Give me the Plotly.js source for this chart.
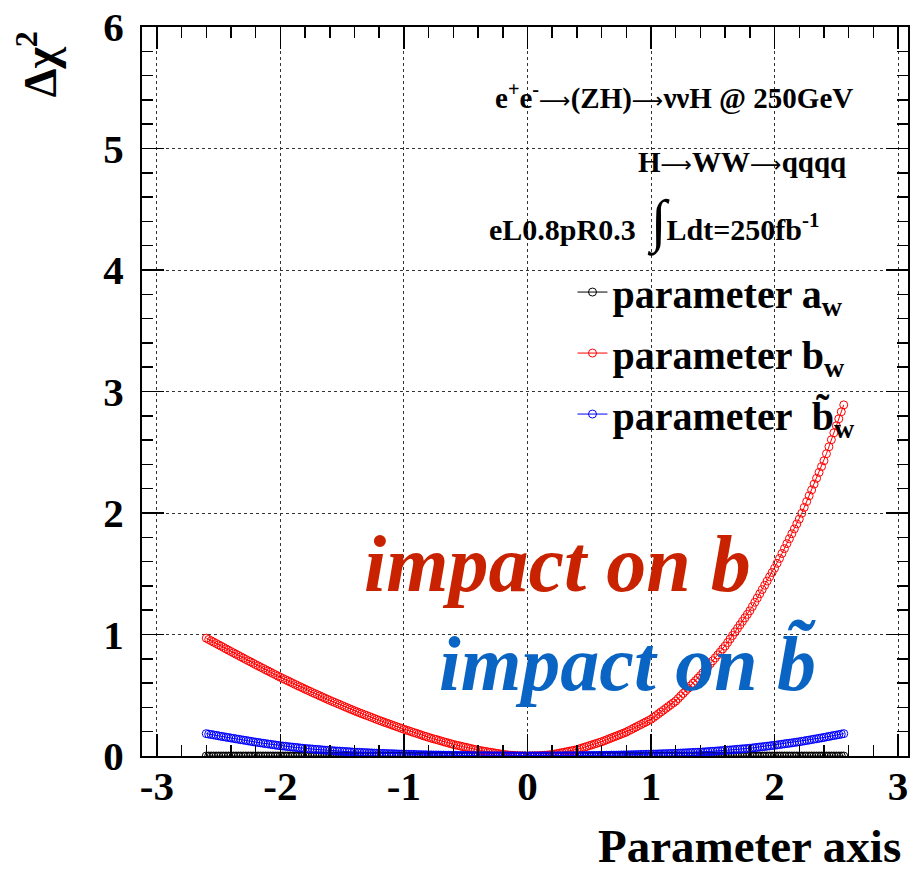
<!DOCTYPE html>
<html><head><meta charset="utf-8">
<script src="https://cdn.plot.ly/plotly-3.0.1.min.js"></script>
<style>html,body{margin:0;padding:0;background:#fff}</style>
</head><body><div id="chart" style="width:910px;height:873px"></div>
<script>
// ---- data ----
const xParam = [
-2.60,-2.58,-2.56,-2.54,-2.52,-2.50,-2.48,-2.46,-2.44,-2.42,
-2.40,-2.38,-2.36,-2.34,-2.32,-2.30,-2.28,-2.26,-2.24,-2.22,
-2.20,-2.18,-2.16,-2.14,-2.12,-2.10,-2.08,-2.06,-2.04,-2.02,
-2.00,-1.98,-1.96,-1.94,-1.92,-1.90,-1.88,-1.86,-1.84,-1.82,
-1.80,-1.78,-1.76,-1.74,-1.72,-1.70,-1.68,-1.66,-1.64,-1.62,
-1.60,-1.58,-1.56,-1.54,-1.52,-1.50,-1.48,-1.46,-1.44,-1.42,
-1.40,-1.38,-1.36,-1.34,-1.32,-1.30,-1.28,-1.26,-1.24,-1.22,
-1.20,-1.18,-1.16,-1.14,-1.12,-1.10,-1.08,-1.06,-1.04,-1.02,
-1.00,-0.98,-0.96,-0.94,-0.92,-0.90,-0.88,-0.86,-0.84,-0.82,
-0.80,-0.78,-0.76,-0.74,-0.72,-0.70,-0.68,-0.66,-0.64,-0.62,
-0.60,-0.58,-0.56,-0.54,-0.52,-0.50,-0.48,-0.46,-0.44,-0.42,
-0.40,-0.38,-0.36,-0.34,-0.32,-0.30,-0.28,-0.26,-0.24,-0.22,
-0.20,-0.18,-0.16,-0.14,-0.12,-0.10,-0.08,-0.06,-0.04,-0.02,
0.00,
0.02,0.04,0.06,0.08,0.10,0.12,0.14,0.16,0.18,
0.20,0.22,0.24,0.26,0.28,0.30,0.32,0.34,0.36,0.38,
0.40,0.42,0.44,0.46,0.48,0.50,0.52,0.54,0.56,0.58,
0.60,0.62,0.64,0.66,0.68,0.70,0.72,0.74,0.76,0.78,
0.80,0.82,0.84,0.86,0.88,0.90,0.92,0.94,0.96,0.98,
1.00,1.02,1.04,1.06,1.08,1.10,1.12,1.14,1.16,1.18,
1.20,1.22,1.24,1.26,1.28,1.30,1.32,1.34,1.36,1.38,
1.40,1.42,1.44,1.46,1.48,1.50,1.52,1.54,1.56,1.58,
1.60,1.62,1.64,1.66,1.68,1.70,1.72,1.74,1.76,1.78,
1.80,1.82,1.84,1.86,1.88,1.90,1.92,1.94,1.96,1.98,
2.00,2.02,2.04,2.06,2.08,2.10,2.12,2.14,2.16,2.18,
2.20,2.22,2.24,2.26,2.28,2.30,2.32,2.34,2.36,2.38,
2.40,2.42,2.44,2.46,2.48,2.50,2.52,2.54,2.56
];

const dchi2A = [
0,0,0,0,0,0,0,0,0,0, 0,0,0,0,0,0,0,0,0,0, 0,0,0,0,0,0,0,0,0,0,
0,0,0,0,0,0,0,0,0,0, 0,0,0,0,0,0,0,0,0,0, 0,0,0,0,0,0,0,0,0,0,
0,0,0,0,0,0,0,0,0,0, 0,0,0,0,0,0,0,0,0,0, 0,0,0,0,0,0,0,0,0,0,
0,0,0,0,0,0,0,0,0,0, 0,0,0,0,0,0,0,0,0,0, 0,0,0,0,0,0,0,0,0,0,
0,0,0,0,0,0,0,0,0,0,
0,
0,0,0,0,0,0,0,0,0,
0,0,0,0,0,0,0,0,0,0, 0,0,0,0,0,0,0,0,0,0, 0,0,0,0,0,0,0,0,0,0,
0,0,0,0,0,0,0,0,0,0, 0,0,0,0,0,0,0,0,0,0, 0,0,0,0,0,0,0,0,0,0,
0,0,0,0,0,0,0,0,0,0, 0,0,0,0,0,0,0,0,0,0, 0,0,0,0,0,0,0,0,0,0,
0,0,0,0,0,0,0,0,0,0, 0,0,0,0,0,0,0,0,0,0,
0,0,0,0,0,0,0,0,0
];

const dchi2B = [
0.970,0.959,0.948,0.937,0.926,0.915,0.904,0.893,0.882,0.871,
0.860,0.849,0.838,0.828,0.817,0.806,0.795,0.784,0.774,0.763,
0.752,0.742,0.731,0.721,0.710,0.700,0.690,0.679,0.669,0.658,
0.648,0.638,0.628,0.619,0.609,0.599,0.589,0.579,0.570,0.560,
0.550,0.541,0.532,0.522,0.513,0.504,0.495,0.486,0.476,0.467,
0.458,0.449,0.441,0.432,0.424,0.415,0.406,0.398,0.389,0.381,
0.372,0.364,0.356,0.348,0.340,0.333,0.325,0.317,0.309,0.301,
0.293,0.286,0.278,0.271,0.264,0.257,0.249,0.242,0.235,0.227,
0.220,0.213,0.207,0.200,0.193,0.187,0.180,0.173,0.166,0.160,
0.153,0.147,0.141,0.136,0.130,0.124,0.118,0.112,0.107,0.101,
0.095,0.090,0.086,0.081,0.076,0.072,0.067,0.062,0.057,0.053,
0.048,0.045,0.041,0.038,0.034,0.031,0.028,0.024,0.021,0.017,
0.014,0.011,0.009,0.007,0.005,0.004,0.002,0.001,0.001,0.000,
0.000,
0.000,0.001,0.001,0.002,0.003,0.004,0.006,0.008,0.010,
0.012,0.016,0.020,0.024,0.028,0.032,0.036,0.040,0.044,0.048,
0.052,0.059,0.065,0.072,0.078,0.085,0.091,0.098,0.104,0.111,
0.117,0.125,0.133,0.141,0.149,0.157,0.165,0.173,0.181,0.189,
0.197,0.208,0.218,0.229,0.239,0.250,0.260,0.271,0.281,0.292,
0.302,0.317,0.332,0.347,0.362,0.377,0.392,0.407,0.422,0.437,
0.452,0.473,0.494,0.515,0.536,0.557,0.578,0.599,0.620,0.641,
0.662,0.686,0.711,0.735,0.759,0.784,0.808,0.832,0.856,0.881,
0.905,0.934,0.963,0.992,1.021,1.050,1.079,1.108,1.137,1.166,
1.195,1.230,1.265,1.300,1.335,1.370,1.405,1.440,1.475,1.510,
1.545,1.586,1.626,1.667,1.707,1.748,1.788,1.829,1.869,1.910,
1.950,1.998,2.046,2.094,2.142,2.190,2.238,2.286,2.334,2.382,
2.430,2.488,2.545,2.603,2.660,2.718,2.775,2.833,2.890
];

const dchi2Bt = [
0.184,0.180,0.177,0.173,0.170,0.166,0.162,0.159,0.155,0.152,
0.148,0.145,0.141,0.138,0.134,0.131,0.128,0.124,0.121,0.117,
0.114,0.111,0.108,0.105,0.102,0.099,0.096,0.093,0.090,0.087,
0.084,0.082,0.080,0.077,0.075,0.073,0.071,0.069,0.066,0.064,
0.062,0.060,0.059,0.057,0.055,0.054,0.052,0.050,0.048,0.047,
0.045,0.044,0.042,0.041,0.040,0.039,0.037,0.036,0.035,0.033,
0.032,0.031,0.030,0.029,0.028,0.027,0.026,0.025,0.024,0.023,
0.022,0.021,0.021,0.020,0.019,0.019,0.018,0.017,0.016,0.016,
0.015,0.014,0.014,0.013,0.013,0.012,0.011,0.011,0.010,0.010,
0.009,0.009,0.008,0.008,0.008,0.007,0.007,0.006,0.006,0.005,
0.005,0.005,0.004,0.004,0.004,0.004,0.003,0.003,0.003,0.002,
0.002,0.002,0.002,0.002,0.002,0.002,0.001,0.001,0.001,0.001,
0.001,0.001,0.001,0.001,0.001,0.000,0.000,0.000,0.000,0.000,
0.000,
0.000,0.000,0.000,0.000,0.000,0.001,0.001,0.001,0.001,
0.001,0.001,0.001,0.001,0.001,0.002,0.002,0.002,0.002,0.002,
0.002,0.002,0.003,0.003,0.003,0.004,0.004,0.004,0.004,0.005,
0.005,0.005,0.006,0.006,0.007,0.007,0.007,0.008,0.008,0.009,
0.009,0.010,0.010,0.011,0.011,0.012,0.013,0.013,0.014,0.014,
0.015,0.016,0.016,0.017,0.018,0.019,0.019,0.020,0.021,0.021,
0.022,0.023,0.024,0.025,0.026,0.027,0.028,0.029,0.030,0.031,
0.032,0.033,0.035,0.036,0.038,0.039,0.040,0.042,0.043,0.045,
0.046,0.048,0.050,0.051,0.053,0.055,0.057,0.059,0.060,0.062,
0.064,0.066,0.069,0.071,0.074,0.076,0.078,0.081,0.083,0.086,
0.088,0.091,0.094,0.097,0.100,0.103,0.105,0.108,0.111,0.114,
0.117,0.121,0.124,0.128,0.131,0.135,0.139,0.142,0.146,0.149,
0.153,0.157,0.161,0.165,0.169,0.172,0.176,0.180,0.184
];

const seriesNames = ['parameter a<sub>w</sub>', 'parameter b<sub>w</sub>', 'parameter  b\u0303<sub>w</sub>'];
const seriesColors = ['#000000', '#ff0000', '#0000ff'];
const xTickVals = [-3, -2, -1, 0, 1, 2, 3];
const xTickText = ['-3', '-2', '-1', '0', '1', '2', '3'];
const yTickVals = [0, 1, 2, 3, 4, 5, 6];
const yTickText = ['0', '1', '2', '3', '4', '5', '6'];

// ---- chart ----
const FONT = '"Liberation Serif", "Times New Roman", Times, serif';
const ARROW = '<span style="font-family:DejaVu Sans;font-weight:normal;font-size:22px">\u27f6</span>';
const seriesY = [dchi2A, dchi2B, dchi2Bt];
const traces = seriesY.map((ys, i) => ({
  type: 'scatter', mode: 'lines+markers', x: xParam, y: ys,
  name: seriesNames[i], legendgroup: 'g' + i,
  line: {color: seriesColors[i], width: 1},
  marker: {symbol: 'circle-open', size: 8, color: seriesColors[i], line: {width: 1, color: seriesColors[i]}},
  hoverinfo: 'x+y'
}));

const axisBase = {
  showline: true, linecolor: '#000', linewidth: 2, mirror: 'allticks',
  ticks: 'inside', ticklen: 22, tickwidth: 1.5, tickcolor: '#000',
  showgrid: true, gridcolor: '#333', gridwidth: 1, griddash: 'dot',
  zeroline: false, tickmode: 'array',
  tickfont: {family: FONT, size: 41, color: '#000', weight: 'bold'}
};

const layout = {
  width: 910, height: 873,
  margin: {l: 142, r: 2, t: 27, b: 117, pad: 0},
  paper_bgcolor: '#fff', plot_bgcolor: '#fff',
  showlegend: true,
  xaxis: Object.assign({}, axisBase, {
    range: [-3.12, 3.08], tickvals: xTickVals, ticktext: xTickText,
    minor: {dtick: 0.2, tick0: 0, ticks: 'inside', ticklen: 11, tickwidth: 1.5, tickcolor: '#000', showgrid: false},
    ticklabelstandoff: -7
  }),
  yaxis: Object.assign({}, axisBase, {
    range: [0, 6], tickvals: yTickVals, ticktext: yTickText,
    minor: {dtick: 0.2, tick0: 0, ticks: 'inside', ticklen: 11, tickwidth: 1.5, tickcolor: '#000', showgrid: false},
    ticklabelstandoff: 8
  }),
  legend: {
    x: 0.562, y: 0.681, xanchor: 'left', yanchor: 'top',
    bgcolor: 'rgba(0,0,0,0)', borderwidth: 0,
    traceorder: 'grouped', tracegroupgap: 6,
    font: {family: FONT, size: 40, color: '#000', weight: 'bold'}
  },
  annotations: [
    {xref: 'paper', yref: 'paper', x: 0.931, y: 0.904, xanchor: 'right', yanchor: 'middle', showarrow: false,
     text: 'e<sup>+</sup>e<sup>-</sup>' + ARROW + '(ZH)' + ARROW + '\u03bd\u03bdH @ 250GeV',
     font: {family: FONT, size: 29, color: '#000', weight: 'bold'}},
    {xref: 'paper', yref: 'paper', x: 0.922, y: 0.815, xanchor: 'right', yanchor: 'middle', showarrow: false,
     text: 'H' + ARROW + 'WW' + ARROW + 'qqqq',
     font: {family: FONT, size: 29, color: '#000', weight: 'bold'}},
    {xref: 'paper', yref: 'paper', x: 0.450, y: 0.733, xanchor: 'left', yanchor: 'middle', showarrow: false,
     text: 'eL0.8pR0.3  <span style="font-size:58px;font-weight:normal">\u222b</span>Ldt=250fb<sup>-1</sup>',
     font: {family: FONT, size: 30, color: '#000', weight: 'bold'}},
    {xref: 'paper', yref: 'paper', x: 0.287, y: 0.263, xanchor: 'left', yanchor: 'middle', showarrow: false,
     text: '<i>impact on b</i>',
     font: {family: FONT, size: 80, color: '#c82200', weight: 'bold'}},
    {xref: 'paper', yref: 'paper', x: 0.385, y: 0.128, xanchor: 'left', yanchor: 'middle', showarrow: false,
     text: '<i>impact on b\u0303</i>',
     font: {family: FONT, size: 78, color: '#0a64c4', weight: 'bold'}},
    {xref: 'paper', yref: 'paper', x: -0.137, y: 0.949, xanchor: 'center', yanchor: 'middle', showarrow: false,
     textangle: -90, text: '\u0394\u03c7<sup>2</sup>',
     font: {family: FONT, size: 46, color: '#000', weight: 'bold'}},
    {xref: 'paper', yref: 'paper', x: 0.993, y: -0.124, xanchor: 'right', yanchor: 'middle', showarrow: false,
     text: 'Parameter axis',
     font: {family: FONT, size: 47, color: '#000', weight: 'bold'}}
  ]
};

Plotly.newPlot('chart', traces, layout, {displayModeBar: false, staticPlot: true});
</script>
</body></html>
